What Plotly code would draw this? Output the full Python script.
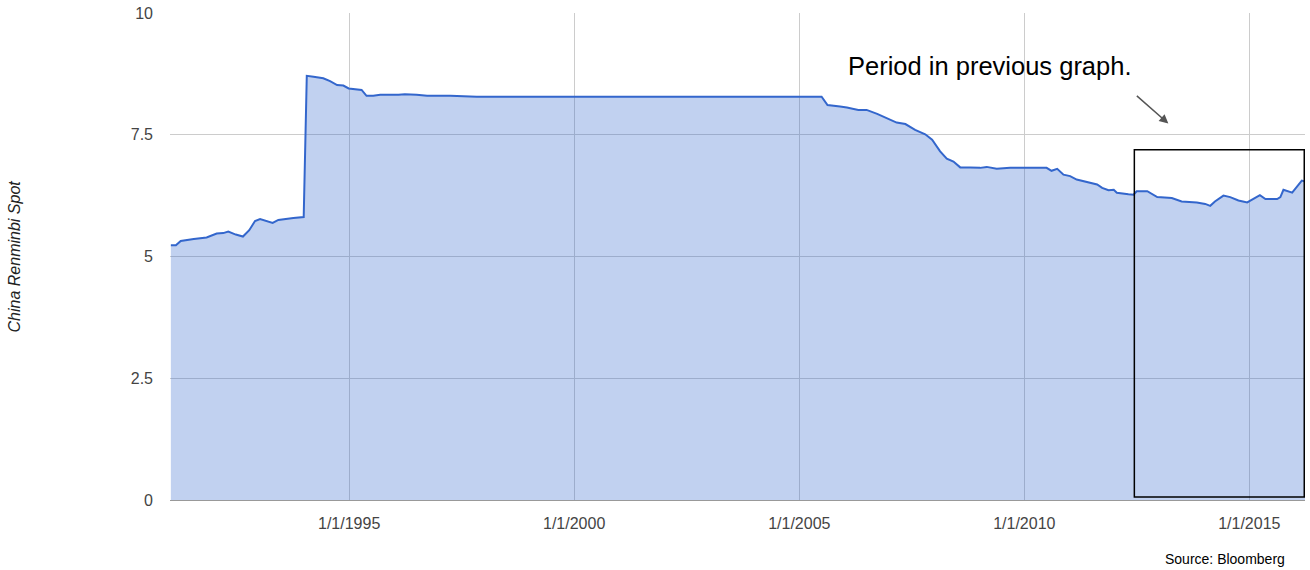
import plotly.graph_objects as go

dates = [
    "1991-01-15", "1991-02-25", "1991-04-05", "1991-06-05", "1991-07-20", "1991-11-01",
    "1992-01-22", "1992-03-15", "1992-04-25", "1992-06-25", "1992-08-22", "1992-10-12",
    "1992-11-28", "1993-01-08", "1993-02-28", "1993-04-20", "1993-06-05", "1993-08-15",
    "1993-10-05", "1993-12-28", "1994-01-22", "1994-03-18", "1994-06-05", "1994-07-30",
    "1994-09-25", "1994-11-15", "1994-12-28", "1995-04-12", "1995-05-22", "1995-07-15",
    "1995-09-10", "1996-02-05", "1996-03-28", "1996-07-01", "1996-09-25", "1997-04-01",
    "1997-11-01", "2005-07-01", "2005-08-18", "2005-11-28", "2006-01-22", "2006-04-25",
    "2006-07-01", "2006-09-25", "2006-12-15", "2007-03-02", "2007-05-12", "2007-07-30",
    "2007-10-20", "2007-12-15", "2008-02-18", "2008-04-12", "2008-06-05", "2008-07-30",
    "2008-10-18", "2009-01-08", "2009-03-02", "2009-05-22", "2009-09-08", "2010-07-01",
    "2010-08-10", "2010-09-25", "2010-11-15", "2011-01-08", "2011-03-02", "2011-05-22",
    "2011-08-15", "2011-09-25", "2011-11-15", "2011-12-28", "2012-01-22", "2012-04-25",
    "2012-06-05", "2012-07-01", "2012-09-25", "2012-12-15", "2013-04-12", "2013-07-01",
    "2013-11-01", "2014-01-08", "2014-02-18", "2014-03-28", "2014-06-05", "2014-07-30",
    "2014-10-05", "2014-12-15", "2015-02-05", "2015-03-28", "2015-05-12", "2015-08-15",
    "2015-09-10", "2015-10-05", "2015-12-15", "2016-03-02", "2016-03-28",
]
cny = [
    5.23, 5.23, 5.32, 5.35, 5.36, 5.39,
    5.47, 5.48, 5.51, 5.45, 5.41, 5.54,
    5.73, 5.77, 5.73, 5.69, 5.75, 5.78,
    5.79, 5.81, 8.71, 8.69, 8.66, 8.60,
    8.52, 8.51, 8.45, 8.42, 8.30, 8.30,
    8.32, 8.32, 8.33, 8.32, 8.30, 8.30,
    8.28, 8.28, 8.11, 8.08, 8.06, 8.01,
    8.01, 7.93, 7.83, 7.75, 7.72, 7.60,
    7.51, 7.40, 7.16, 7.01, 6.95, 6.83,
    6.83, 6.82, 6.84, 6.80, 6.82, 6.82,
    6.76, 6.80, 6.68, 6.65, 6.58, 6.53,
    6.48, 6.41, 6.36, 6.37, 6.31, 6.28,
    6.27, 6.34, 6.34, 6.22, 6.20, 6.13,
    6.11, 6.08, 6.04, 6.13, 6.25, 6.22,
    6.15, 6.11, 6.18, 6.26, 6.18, 6.18,
    6.22, 6.37, 6.31, 6.56, 6.54,
]

y_ticks = [0, 2.5, 5, 7.5, 10]
y_tick_labels = ["0", "2.5", "5", "7.5", "10"]
x_ticks = ["1995-01-01", "2000-01-01", "2005-01-01", "2010-01-01", "2015-01-01"]
x_tick_labels = ["1/1/1995", "1/1/2000", "1/1/2005", "1/1/2010", "1/1/2015"]

box_x = ["2012-06-12", "2016-03-22"]
box_y = [0.06, 7.19]

FONT = "Liberation Sans, Arial, sans-serif"

fig = go.Figure()
fig.add_trace(go.Scatter(
    x=dates, y=cny, mode="lines",
    line=dict(color="#3366cc", width=2),
    fill="tozeroy", fillcolor="rgba(51,102,204,0.3)",
    showlegend=False,
))

fig.add_shape(type="rect", xref="x", yref="y",
              x0=box_x[0], x1=box_x[1], y0=box_y[0], y1=box_y[1],
              line=dict(color="#000000", width=1.5))

fig.add_annotation(text="Period in previous graph.", xref="paper", yref="paper",
                   x=0.7225, y=0.8915, xanchor="center", yanchor="middle", showarrow=False,
                   font=dict(family=FONT, size=25.5, color="#000000"))
fig.add_annotation(text="", xref="x", yref="y", x="2013-03-15", y=7.73,
                   ax=-33, ay=-29, showarrow=True, arrowhead=2, arrowsize=1.2,
                   arrowwidth=1.5, arrowcolor="#555555")
fig.add_annotation(text="<i>China Renminbi Spot</i>", xref="paper", yref="paper",
                   x=-0.1366, y=0.5, xanchor="center", yanchor="middle",
                   textangle=-90, showarrow=False,
                   font=dict(family=FONT, size=16, color="#222222"))
fig.add_annotation(text="Source: Bloomberg", xref="paper", yref="paper",
                   x=0.984, y=-0.1207, xanchor="right", yanchor="middle",
                   showarrow=False, font=dict(family=FONT, size=14, color="#000000"))

fig.update_layout(
    width=1310, height=570,
    margin=dict(l=170, r=5, t=11, b=70),
    plot_bgcolor="white", paper_bgcolor="white",
    font=dict(family=FONT, size=16, color="#444444"),
    xaxis=dict(range=["1991-01-08", "2016-03-28"], tickvals=x_ticks, ticktext=x_tick_labels,
               showgrid=True, gridcolor="#cccccc", gridwidth=1, zeroline=False,
               showline=False, ticks="", ticklabelstandoff=12,
               tickfont=dict(size=16, color="#444444")),
    yaxis=dict(range=[0, 10], tickvals=y_ticks, ticktext=y_tick_labels,
               showgrid=True, gridcolor="#cccccc", gridwidth=1, zeroline=True,
               zerolinecolor="#999999", zerolinewidth=1, showline=False, ticks="",
               ticklabelstandoff=16,
               tickfont=dict(size=16, color="#444444")),
)

fig.write_html("out.html", config={"displayModeBar": False})

with open("out.html", "r", encoding="utf-8") as f:
    html = f.read()
html = html.replace("<head>", "<head><style>html,body{margin:0;padding:0;overflow:hidden;}</style>", 1)
with open("out.html", "w", encoding="utf-8") as f:
    f.write(html)
